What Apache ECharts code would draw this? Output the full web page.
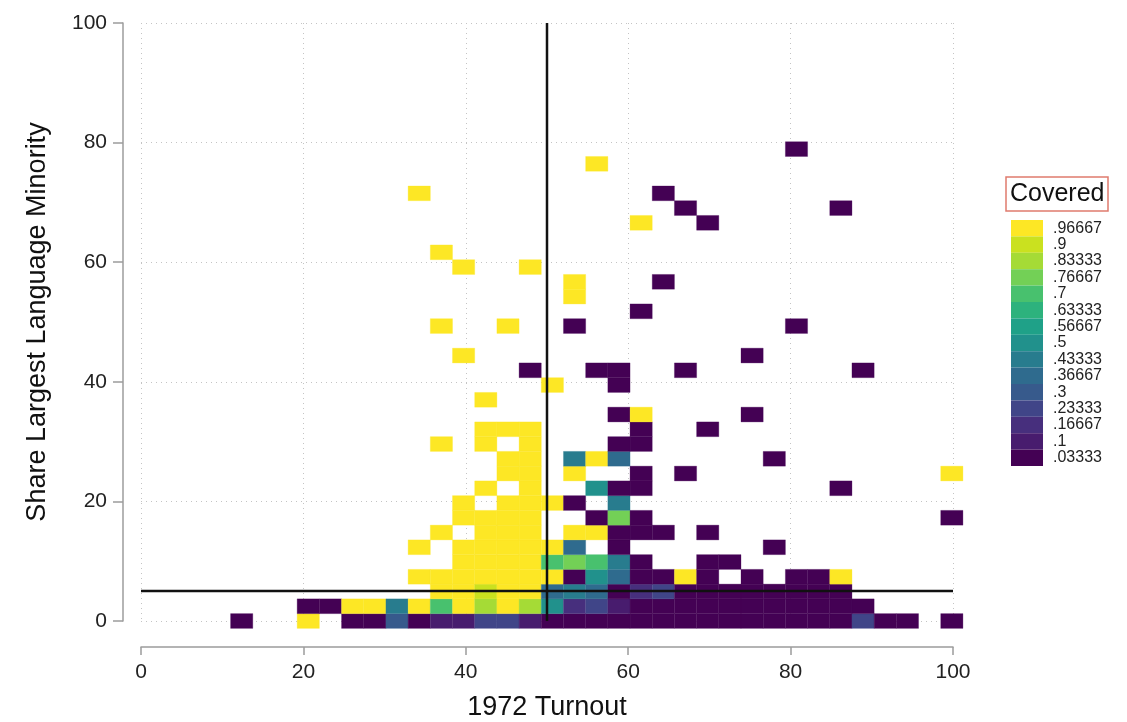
<!DOCTYPE html>
<html>
<head>
<meta charset="utf-8">
<script src="https://cdn.jsdelivr.net/npm/echarts@6/dist/echarts.min.js"></script>
<style>
  html, body { margin: 0; padding: 0; background: #ffffff; }
  #chart { width: 1127px; height: 722px; }
</style>
</head>
<body>
<div id="chart"></div>
<script>
// Bin grid of the 2-D histogram: 33 x 33 bins, first bin centred on the lowest observation
const turnoutBinStart = 12.4;
const turnoutBinWidth = 2.733;
const minorityBinStart = 0;
const minorityBinWidth = 2.466;

// [turnout bin, minority-share bin, mean of "covered" in the bin]
const cells = [
  // row 0
  [0,0,0],[3,0,1],[5,0,0],[6,0,0],[7,0,0.28],[8,0,0],[9,0,0.12],[10,0,0.12],[11,0,0.22],[12,0,0.22],[13,0,0.1],
  [14,0,0],[15,0,0],[16,0,0],[17,0,0],[18,0,0],[19,0,0],[20,0,0],[21,0,0],[22,0,0],[23,0,0],[24,0,0],[25,0,0],
  [26,0,0],[27,0,0],[28,0,0.25],[29,0,0],[30,0,0],[32,0,0],
  // row 1
  [3,1,0],[4,1,0],[5,1,1],[6,1,1],[7,1,0.43],[8,1,1],[9,1,0.7],[10,1,1],[11,1,0.83],[12,1,1],[13,1,0.83],
  [14,1,0.5],[15,1,0.15],[16,1,0.25],[17,1,0.1],[18,1,0],[19,1,0],[20,1,0],[21,1,0],[22,1,0],[23,1,0],
  [24,1,0],[25,1,0],[26,1,0],[27,1,0],[28,1,0],
  // row 2
  [9,2,1],[10,2,1],[11,2,0.9],[12,2,1],[13,2,1],[14,2,0.36],[15,2,0.43],[16,2,0.38],[17,2,0],[18,2,0.17],
  [19,2,0.22],[20,2,0],[21,2,0],[22,2,0],[23,2,0],[24,2,0],[25,2,0],[26,2,0],[27,2,0],
  // row 3
  [8,3,1],[9,3,1],[10,3,1],[11,3,1],[12,3,1],[13,3,1],[14,3,1],[15,3,0],[16,3,0.5],[17,3,0.38],[18,3,0],
  [19,3,0],[20,3,1],[21,3,0],[23,3,0],[25,3,0],[26,3,0],[27,3,1],
  // row 4
  [10,4,1],[11,4,1],[12,4,1],[13,4,1],[14,4,0.72],[15,4,0.75],[16,4,0.7],[17,4,0.45],[18,4,0],[21,4,0],[22,4,0],
  // row 5
  [8,5,1],[10,5,1],[11,5,1],[12,5,1],[13,5,1],[14,5,1],[15,5,0.36],[17,5,0],[24,5,0],
  // row 6
  [9,6,1],[11,6,1],[12,6,1],[13,6,1],[15,6,1],[16,6,1],[17,6,0],[18,6,0],[19,6,0],[21,6,0],
  // row 7
  [10,7,1],[11,7,1],[12,7,1],[13,7,1],[16,7,0],[17,7,0.78],[18,7,0],[32,7,0],
  // row 8
  [10,8,1],[12,8,1],[13,8,1],[14,8,1],[15,8,0],[17,8,0.45],
  // row 9
  [11,9,1],[13,9,1],[16,9,0.5],[17,9,0],[18,9,0],[27,9,0],
  // row 10
  [12,10,1],[13,10,1],[15,10,1],[18,10,0],[20,10,0],[32,10,1],
  // row 11
  [12,11,1],[13,11,1],[15,11,0.45],[16,11,1],[17,11,0.36],[24,11,0],
  // row 12
  [9,12,1],[11,12,1],[13,12,1],[17,12,0],[18,12,0],
  // row 13
  [11,13,1],[12,13,1],[13,13,1],[18,13,0],[21,13,0],
  // rows 14 - 32
  [17,14,0],[18,14,1],[23,14,0],
  [11,15,1],
  [14,16,1],[17,16,0],
  [13,17,0],[16,17,0],[17,17,0],[20,17,0],[28,17,0],
  [10,18,1],[23,18,0],
  [9,20,1],[12,20,1],[15,20,0],[25,20,0],
  [18,21,0],
  [15,22,1],
  [15,23,1],[19,23,0],
  [10,24,1],[13,24,1],
  [9,25,1],
  [18,27,1],[21,27,0],
  [20,28,0],[27,28,0],
  [8,29,1],[19,29,0],
  [16,31,1],
  [25,32,0]
];

// Legend classes (15 equal-width classes of the share covered)
const legendLabels = ['.03333', '.1', '.16667', '.23333', '.3', '.36667', '.43333', '.5',
                      '.56667', '.63333', '.7', '.76667', '.83333', '.9', '.96667'];
const legendColors = ['#440154', '#481c6e', '#472f7d', '#404588', '#375a8c', '#2f6b8e', '#287c8e', '#21918c',
                      '#1fa188', '#2db27d', '#48c16e', '#73d056', '#a5db36', '#cae11f', '#fde725'];

// Reference lines: turnout threshold and language-minority threshold
const turnoutThreshold = 50;
const minorityThreshold = 5;

const FONT = '"Liberation Sans", Arial, Helvetica, sans-serif';
const AXIS_GREY = '#9c9c9c';

const pieces = legendLabels.map((label, k) => {
  const piece = { gte: k / 15, label: label, color: legendColors[k] };
  if (k < legendLabels.length - 1) piece.lt = (k + 1) / 15; else piece.lte = 1;
  return piece;
});

const cellData = cells.map(c => [
  turnoutBinStart + c[0] * turnoutBinWidth,
  minorityBinStart + c[1] * minorityBinWidth,
  c[2]
]);

const chart = echarts.init(document.getElementById('chart'), null, { renderer: 'canvas' });

chart.setOption({
  animation: false,
  backgroundColor: '#ffffff',
  title: {
    text: 'Covered',
    left: 1006,
    top: 177,
    padding: [2, 4],
    borderColor: '#e07b6e',
    borderWidth: 1.5,
    textStyle: { fontSize: 25, fontWeight: 'normal', color: '#111111', fontFamily: FONT, lineHeight: 30 }
  },
  grid: { left: 141, top: 23, width: 812, height: 598, outerBoundsMode: 'none' },
  xAxis: {
    type: 'value',
    min: 0, max: 100, interval: 20,
    offset: 26,
    name: '1972 Turnout',
    nameLocation: 'middle',
    nameGap: 47,
    nameTextStyle: { fontSize: 27, color: '#111111', fontFamily: FONT },
    axisLine: { show: true, onZero: false, lineStyle: { color: AXIS_GREY, width: 1.5 } },
    axisTick: { show: true, length: 8, lineStyle: { color: AXIS_GREY, width: 1.5 } },
    axisLabel: { fontSize: 21, color: '#222222', fontFamily: FONT, margin: 15 },
    splitLine: { show: true, lineStyle: { color: '#c4c4c4', width: 1, type: [1, 4] } }
  },
  yAxis: {
    type: 'value',
    min: 0, max: 100, interval: 20,
    offset: 18,
    name: 'Share Largest Language Minority',
    nameLocation: 'middle',
    nameGap: 72,
    nameTextStyle: { fontSize: 27, color: '#111111', fontFamily: FONT },
    axisLine: { show: true, onZero: false, lineStyle: { color: AXIS_GREY, width: 1.5 } },
    axisTick: { show: true, length: 10, lineStyle: { color: AXIS_GREY, width: 1.5 } },
    axisLabel: { fontSize: 21, color: '#222222', fontFamily: FONT, margin: 16 },
    splitLine: { show: true, lineStyle: { color: '#c4c4c4', width: 1, type: [1, 4] } }
  },
  visualMap: {
    type: 'piecewise',
    seriesIndex: 0,
    dimension: 2,
    orient: 'vertical',
    align: 'left',
    left: 1011,
    top: 220,
    padding: 0,
    itemWidth: 32,
    itemHeight: 16.4,
    itemGap: 0,
    textGap: 10,
    itemSymbol: 'rect',
    selectedMode: false,
    pieces: pieces,
    textStyle: { fontSize: 16, color: '#222222', fontFamily: FONT }
  },
  series: [
    {
      type: 'custom',
      name: 'Covered',
      clip: false,
      z: 2,
      encode: { x: 0, y: 1 },
      data: cellData,
      renderItem: function (params, api) {
        const x = api.value(0);
        const y = api.value(1);
        const p0 = api.coord([x - turnoutBinWidth / 2, y + minorityBinWidth / 2]);
        const p1 = api.coord([x + turnoutBinWidth / 2, y - minorityBinWidth / 2]);
        return {
          type: 'rect',
          shape: { x: p0[0], y: p0[1], width: p1[0] - p0[0], height: p1[1] - p0[1] },
          style: { fill: api.visual('color'), stroke: api.visual('color'), lineWidth: 0.3 }
        };
      }
    },
    {
      type: 'line',
      silent: true,
      z: 5,
      showSymbol: false,
      data: [[turnoutThreshold, 0], [turnoutThreshold, 100]],
      lineStyle: { color: '#111111', width: 2.5 }
    },
    {
      type: 'line',
      silent: true,
      z: 5,
      showSymbol: false,
      data: [[0, minorityThreshold], [100, minorityThreshold]],
      lineStyle: { color: '#111111', width: 2.5 }
    }
  ]
});
</script>
</body>
</html>
